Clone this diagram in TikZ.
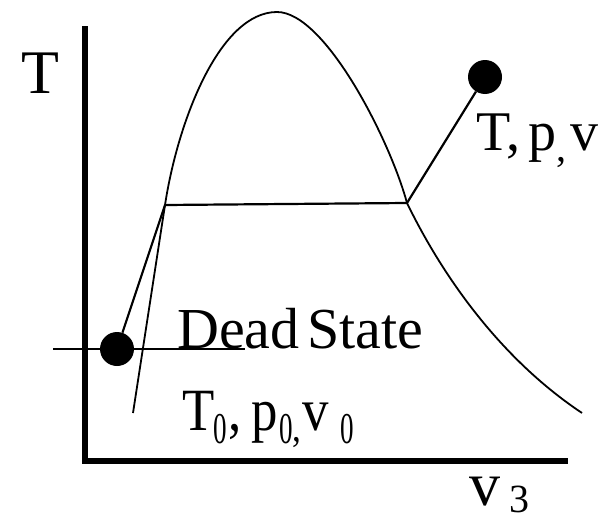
\documentclass[tikz,border=0pt]{standalone}
\usepackage{fontspec}
\setmainfont{Liberation Serif}
\usepackage{tikz}
\usetikzlibrary{positioning}
% lowered small digit / comma
\newcommand{\lowsub}[2][13]{\raisebox{-#1pt}{\scalebox{0.7}[1]{\fontsize{44}{44}\selectfont #2}}}
\newcommand{\lowcomma}{\raisebox{-11pt}{\fontsize{40}{40}\selectfont ,}}
\tikzset{
  axis/.style  = {line width=5.5pt, line cap=rect},
  thin/.style  = {line width=1.8pt},
  tie/.style   = {line width=2.2pt},
  dot/.style   = {circle, fill=black, inner sep=0pt, minimum size=34pt},
  lbl/.style   = {anchor=base west, inner sep=0pt, font=\fontsize{56}{56}\selectfont},
}

\begin{document}
\begin{tikzpicture}[x=1pt, y=-1pt]
  \useasboundingbox (0,0) rectangle (614,522);
  % axes
  \coordinate (o) at (85,461);
  \draw[axis] (85,29) -- (o) -- (565,461);
  \node[lbl, font=\fontsize{62}{62}\selectfont] (tlab) at (21,93) {T};
  \node[lbl, font=\fontsize{62}{62}\selectfont] (vlab) at (469,505)
    {v\hspace{9pt}\raisebox{-7pt}{\fontsize{40}{40}\selectfont 3}};
  % saturation dome
  \coordinate (bot) at (133,413);
  \coordinate (liq) at (165,205);
  \coordinate (top) at (277,12);
  \coordinate (vap) at (407,203);
  \coordinate (end) at (582,413);
  \draw[thin] (bot) -- (liq)
    .. controls (178,120) and (220,12) .. (top)
    .. controls (325,12) and (390,140) .. (vap)
    .. controls (425,240) and (480,345) .. (end);
  \draw[tie] (liq) -- (vap);
  % states
  \node[dot] (st) at (485,77) {};
  \node[dot] (dead) at (117,349) {};
  \draw[tie] (st) -- (vap);
  \draw[tie] (dead) -- (liq);
  \coordinate (dl) at (53,349);
  \coordinate (dr) at (245,349);
  \draw[tie] (dl) -- (dr);
  \node[lbl] (stlab) at (476,150) {T,\hspace{8pt}p\lowcomma\hspace{4pt}v};
  \node[lbl, font=\fontsize{58}{58}\selectfont] (deadlab) at (177,348) {Dead\hspace{8pt}State};
  \node[lbl, font=\fontsize{60}{60}\selectfont] (deadval) at (182,430)
    {\scalebox{0.88}[1]{T\hspace{-1pt}\lowsub{0}\hspace{2pt},\hspace{11pt}p\hspace{1pt}\lowsub{0}\lowcomma\hspace{1pt}v\hspace{14pt}\lowsub{0}}};
\end{tikzpicture}
\end{document}
